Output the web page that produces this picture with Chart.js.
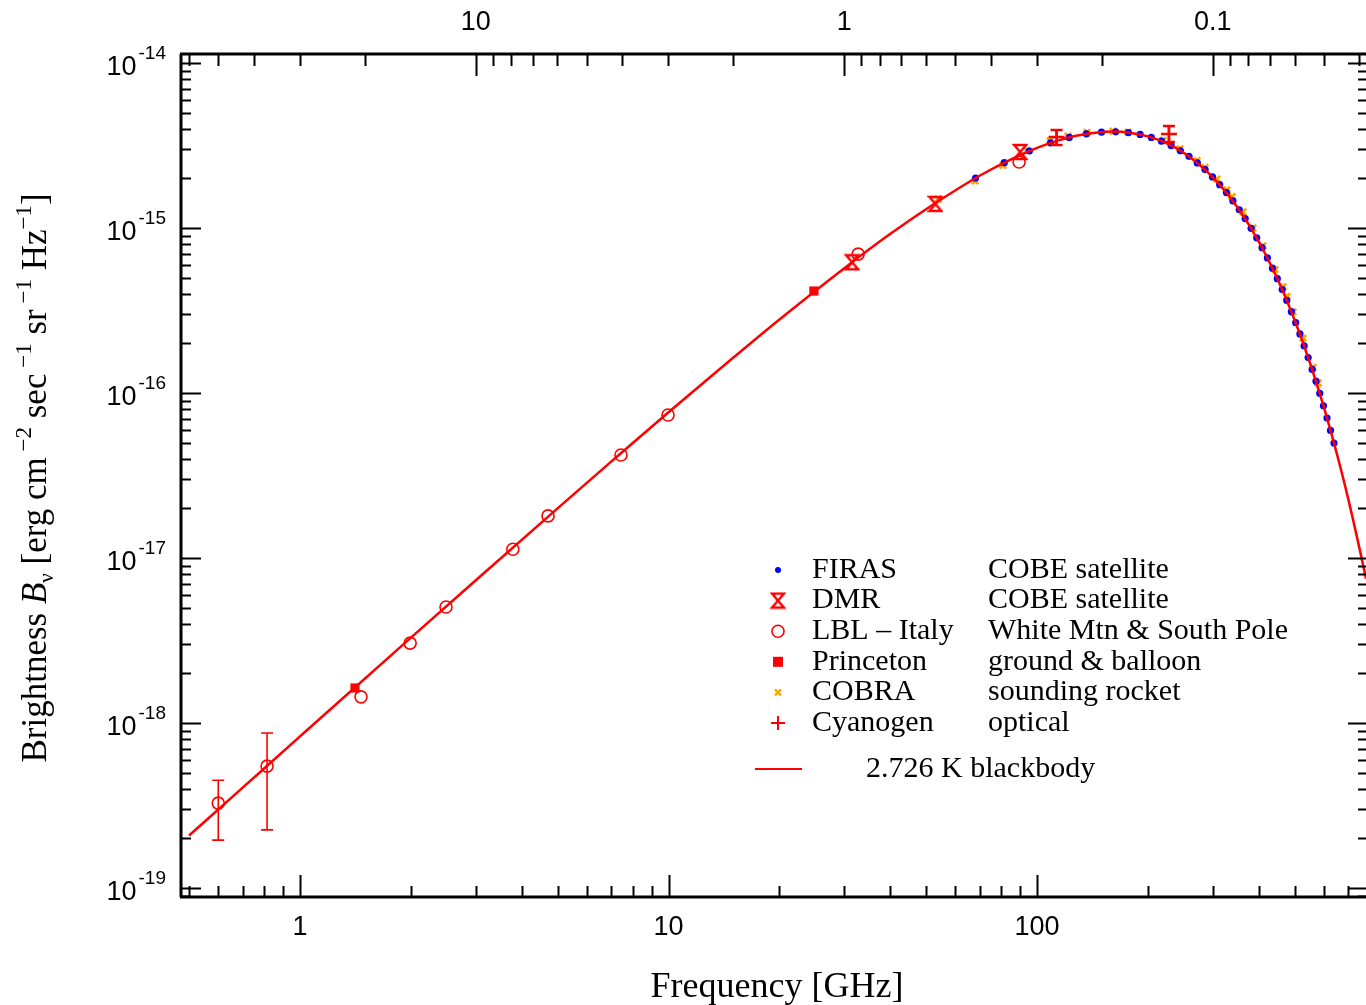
<!DOCTYPE html>
<html>
<head>
<meta charset="utf-8">
<script src="https://cdn.jsdelivr.net/npm/chart.js@4.4.0/dist/chart.umd.min.js"></script>
<style>
  html, body { margin: 0; padding: 0; background: #fff; }
  canvas { display: block; }
</style>
</head>
<body>
<canvas id="cmb" width="1366" height="1005"></canvas>
<script>
// frequency in GHz, brightness in erg cm^-2 sec^-1 sr^-1 Hz^-1
var firasFreq = [68.1, 81.5, 95.3, 108.8, 122.3, 136.1, 149.6, 163.4, 176.9, 190.4, 204.2, 217.6, 231.1,
  244.9, 258.4, 272.2, 285.7, 299.2, 313.0, 326.5, 340.0, 353.8, 367.2, 381.0, 394.5, 408.0, 421.8,
  435.3, 448.8, 462.6, 476.1, 489.9, 503.3, 516.8, 530.6, 544.1, 557.9, 571.4, 584.9, 598.7, 612.2,
  625.7, 639.4];
var firasB = [2.01e-15, 2.49e-15, 2.93e-15, 3.28e-15, 3.54e-15, 3.72e-15, 3.81e-15, 3.83e-15, 3.79e-15,
  3.69e-15, 3.54e-15, 3.36e-15, 3.16e-15, 2.94e-15, 2.72e-15, 2.48e-15, 2.26e-15, 2.04e-15, 1.83e-15,
  1.64e-15, 1.46e-15, 1.29e-15, 1.14e-15, 9.96e-16, 8.72e-16, 7.60e-16, 6.59e-16, 5.71e-16, 4.93e-16,
  4.24e-16, 3.64e-16, 3.11e-16, 2.67e-16, 2.28e-16, 1.93e-16, 1.64e-16, 1.39e-16, 1.18e-16, 9.95e-17,
  8.37e-17, 7.05e-17, 5.93e-17, 4.97e-17];

var dmrFreq = [31.5, 53, 90];
var dmrB = [6.2e-16, 1.4e-15, 2.89e-15];

var lblFreq = [0.6, 0.814, 1.464, 1.99, 2.49, 3.78, 4.71, 7.43, 9.97, 32.7, 89.4];
var lblB = [3.27e-19, 5.48e-19, 1.44e-18, 3.05e-18, 5.05e-18, 1.13e-17, 1.8e-17, 4.21e-17, 7.36e-17, 6.95e-16, 2.51e-15];
var lblLow = [1.95e-19, 2.25e-19, null, null, null, null, null, null, null, null, null];
var lblHigh = [4.5e-19, 8.7e-19, null, null, null, null, null, null, null, null, null];

var princetonFreq = [1.41, 24.8];
var princetonB = [1.63e-18, 4.15e-16];

var cobraFreq = [53.9, 67.9, 80.9, 94.0, 108.5, 121.4, 136.7, 160.8, 176.6, 219.8, 244.3, 271.8, 285.7,
  307.8, 327.8, 338.2, 362.2, 385.5, 410.3, 442.3, 465.2, 476.6, 495.1, 526.9, 561.0, 578.8];
var cobraB = [1.50e-15, 1.93e-15, 2.40e-15, 2.95e-15, 3.38e-15, 3.60e-15, 3.80e-15, 3.86e-15, 3.81e-15,
  3.40e-15, 3.02e-15, 2.56e-15, 2.33e-15, 1.98e-15, 1.70e-15, 1.55e-15, 1.25e-15, 1.0e-15, 7.8e-16,
  5.6e-16, 4.4e-16, 3.85e-16, 3.1e-16, 2.15e-16, 1.43e-16, 1.15e-16];

var cyanFreq = [113, 228];
var cyanB = [3.56e-15, 3.71e-15];
var cyanLow = [3.19e-15, 3.32e-15];
var cyanHigh = [3.93e-15, 4.15e-15];

var bbFreq = [0.5, 0.7, 1, 2, 3, 5, 7, 10, 15, 20, 30, 40, 50, 70, 85, 100, 115, 130, 160, 180, 200,
  225, 250, 300, 350, 400, 450, 500, 550, 600, 650, 700, 781, 800];
var bbB = [2.08e-19, 4.07e-19, 8.29e-19, 3.29e-18, 7.33e-18, 2.0e-17, 3.85e-17, 7.65e-17, 1.64e-16,
  2.79e-16, 5.71e-16, 9.22e-16, 1.30e-15, 2.08e-15, 2.61e-15, 3.06e-15, 3.41e-15, 3.65e-15, 3.84e-15,
  3.77e-15, 3.59e-15, 3.26e-15, 2.86e-15, 2.03e-15, 1.33e-15, 8.25e-16, 4.87e-16, 2.77e-16, 1.53e-16,
  8.23e-17, 4.34e-17, 2.25e-17, 7.5e-18, 5.76e-18];

var xTickLabels = ['1', '10', '100'];
var xTickValues = [1, 10, 100];
var lambdaLabels = ['10', '1', '0.1'];
var lambdaValues = [10, 1, 0.1];
var yExponents = [-14, -15, -16, -17, -18, -19];

var legendRows = [
  ['firas', 'FIRAS', 'COBE satellite'],
  ['dmr', 'DMR', 'COBE satellite'],
  ['lbl', 'LBL \u2013 Italy', 'White Mtn & South Pole'],
  ['princeton', 'Princeton', 'ground & balloon'],
  ['cobra', 'COBRA', 'sounding rocket'],
  ['cyan', 'Cyanogen', 'optical']
];

var RED = '#ff0000';
var BLUE = '#0000ff';
var ORANGE = '#ffa500';
var C_CM_GHZ = 29.979;

function pts(xs, ys) {
  return xs.map(function (x, i) { return { x: x, y: ys[i] }; });
}

function hourglass() {
  var c = document.createElement('canvas');
  c.width = 16; c.height = 18;
  var g = c.getContext('2d');
  g.strokeStyle = RED;
  g.lineWidth = 2.5;
  g.beginPath();
  g.moveTo(2, 2); g.lineTo(14, 2); g.lineTo(2, 16); g.lineTo(14, 16); g.closePath();
  g.stroke();
  return c;
}
var dmrMark = hourglass();

var errorBars = {
  id: 'errorBars',
  afterDatasetsDraw: function (chart) {
    var ctx = chart.ctx, xs = chart.scales.x, ys = chart.scales.y;
    ctx.save();
    ctx.strokeStyle = RED;
    ctx.lineWidth = 1.6;
    function bar(f, lo, hi, cap) {
      var px = xs.getPixelForValue(f), a = ys.getPixelForValue(lo), b = ys.getPixelForValue(hi);
      ctx.beginPath();
      ctx.moveTo(px, a); ctx.lineTo(px, b);
      ctx.moveTo(px - cap, a); ctx.lineTo(px + cap, a);
      ctx.moveTo(px - cap, b); ctx.lineTo(px + cap, b);
      ctx.stroke();
    }
    lblFreq.forEach(function (f, i) { if (lblLow[i] !== null) bar(f, lblLow[i], lblHigh[i], 6); });
    ctx.lineWidth = 2.5;
    cyanFreq.forEach(function (f, i) { bar(f, cyanLow[i], cyanHigh[i], 6); });
    ctx.restore();
  }
};

function drawMarker(ctx, kind, x, y) {
  ctx.save();
  if (kind === 'firas') {
    ctx.fillStyle = BLUE;
    ctx.beginPath(); ctx.arc(x, y, 3, 0, Math.PI * 2); ctx.fill();
  } else if (kind === 'dmr') {
    ctx.drawImage(dmrMark, x - 8, y - 9);
  } else if (kind === 'lbl') {
    ctx.strokeStyle = RED; ctx.lineWidth = 1.6;
    ctx.beginPath(); ctx.arc(x, y, 6, 0, Math.PI * 2); ctx.stroke();
  } else if (kind === 'princeton') {
    ctx.fillStyle = RED;
    ctx.fillRect(x - 5, y - 5, 10, 10);
  } else if (kind === 'cobra') {
    ctx.strokeStyle = ORANGE; ctx.lineWidth = 2.5;
    ctx.beginPath();
    ctx.moveTo(x - 3, y - 3); ctx.lineTo(x + 3, y + 3);
    ctx.moveTo(x + 3, y - 3); ctx.lineTo(x - 3, y + 3);
    ctx.stroke();
  } else if (kind === 'cyan') {
    ctx.strokeStyle = RED; ctx.lineWidth = 2;
    ctx.beginPath();
    ctx.moveTo(x - 7, y); ctx.lineTo(x + 7, y);
    ctx.moveTo(x, y - 7); ctx.lineTo(x, y + 7);
    ctx.stroke();
  }
  ctx.restore();
}

function measureRuns(ctx, parts) {
  var w = 0;
  parts.forEach(function (p) { ctx.font = p.f; p.w = ctx.measureText(p.t).width; w += p.w; });
  return w;
}

var frame = {
  id: 'frame',
  afterDraw: function (chart) {
    var ctx = chart.ctx, a = chart.chartArea, xs = chart.scales.x, ys = chart.scales.y;
    ctx.save();
    ctx.strokeStyle = '#000';
    ctx.fillStyle = '#000';

    // frame lines
    ctx.lineWidth = 3;
    ctx.beginPath();
    ctx.moveTo(a.left, a.top); ctx.lineTo(a.left, a.bottom);
    ctx.moveTo(a.left - 1, a.bottom); ctx.lineTo(a.right + 2, a.bottom);
    ctx.moveTo(a.left - 1, a.top); ctx.lineTo(a.right + 2, a.top);
    ctx.stroke();

    ctx.lineWidth = 2;
    ctx.beginPath();
    // frequency ticks (bottom)
    for (var d = -1; d <= 3; d++) {
      for (var k = 1; k <= 9; k++) {
        var v = k * Math.pow(10, d);
        if (v < xs.min || v > xs.max) continue;
        var px = Math.round(xs.getPixelForValue(v)) + 0.5;
        var len = k === 1 ? 22 : 11;
        ctx.moveTo(px, a.bottom); ctx.lineTo(px, a.bottom - len);
      }
    }
    // wavelength ticks (top), lambda in cm
    for (d = -3; d <= 2; d++) {
      for (k = 1; k <= 9; k++) {
        var lam = k * Math.pow(10, d);
        var f = C_CM_GHZ / lam;
        if (f < xs.min || f > xs.max) continue;
        px = Math.round(xs.getPixelForValue(f)) + 0.5;
        len = k === 1 ? 22 : 12;
        ctx.moveTo(px, a.top); ctx.lineTo(px, a.top + len);
      }
    }
    // brightness ticks (left and right)
    for (d = -20; d <= -14; d++) {
      for (k = 1; k <= 9; k++) {
        v = k * Math.pow(10, d);
        if (v < ys.min || v > ys.max) continue;
        var py = Math.round(ys.getPixelForValue(v)) + 0.5;
        len = k === 1 ? 20 : 10;
        ctx.moveTo(a.left, py); ctx.lineTo(a.left + len, py);
        ctx.moveTo(a.right + 2, py); ctx.lineTo(a.right + 2 - len, py);
      }
    }
    ctx.stroke();

    // tick labels
    ctx.textBaseline = 'middle';
    ctx.textAlign = 'center';
    ctx.font = '27px "Liberation Sans"';
    xTickValues.forEach(function (v, i) {
      ctx.fillText(xTickLabels[i], xs.getPixelForValue(v), 928);
    });
    lambdaValues.forEach(function (l, i) {
      ctx.fillText(lambdaLabels[i], xs.getPixelForValue(C_CM_GHZ / l), 23);
    });
    yExponents.forEach(function (e) {
      var py = ys.getPixelForValue(Math.pow(10, e));
      var sup = '-' + Math.abs(e);
      ctx.font = '19px "Liberation Sans"';
      var sw = ctx.measureText(sup).width;
      ctx.textAlign = 'left';
      ctx.fillText(sup, 166 - sw, py - 9);
      ctx.font = '27px "Liberation Sans"';
      ctx.textAlign = 'right';
      ctx.fillText('10', 164 - sw, py + 5);
    });

    // x title
    ctx.textAlign = 'center';
    ctx.textBaseline = 'alphabetic';
    ctx.font = '36px "Liberation Serif"';
    ctx.fillText('Frequency [GHz]', 777, 997);

    // y title with sub/superscripts
    var serif = '"Liberation Serif"';
    var parts = [
      { t: 'Brightness ', f: '35px ' + serif, dy: 0 },
      { t: 'B', f: 'italic 35px ' + serif, dy: 0 },
      { t: '\u03bd', f: '21px ' + serif, dy: 7 },
      { t: ' [erg cm', f: '35px ' + serif, dy: 0 },
      { t: ' \u22122', f: '23px ' + serif, dy: -15 },
      { t: ' sec', f: '35px ' + serif, dy: 0 },
      { t: ' \u22121', f: '23px ' + serif, dy: -15 },
      { t: ' sr', f: '35px ' + serif, dy: 0 },
      { t: ' \u22121', f: '23px ' + serif, dy: -15 },
      { t: ' Hz', f: '35px ' + serif, dy: 0 },
      { t: '\u22121', f: '23px ' + serif, dy: -15 },
      { t: ']', f: '35px ' + serif, dy: 0 }
    ];
    var total = measureRuns(ctx, parts);
    ctx.save();
    ctx.translate(46, 478);
    ctx.rotate(-Math.PI / 2);
    ctx.textAlign = 'left';
    var cx = -total / 2;
    parts.forEach(function (p) {
      ctx.font = p.f;
      ctx.fillText(p.t, cx, p.dy);
      cx += p.w;
    });
    ctx.restore();

    // legend
    ctx.font = '30px "Liberation Serif"';
    ctx.textAlign = 'left';
    ctx.textBaseline = 'middle';
    legendRows.forEach(function (r, i) {
      var y = 570 + i * 30.6;
      drawMarker(ctx, r[0], 778, y);
      ctx.fillStyle = '#000';
      ctx.fillText(r[1], 812, y);
      ctx.fillText(r[2], 988, y);
    });
    ctx.strokeStyle = RED;
    ctx.lineWidth = 2;
    ctx.beginPath();
    ctx.moveTo(755, 769); ctx.lineTo(802, 769);
    ctx.stroke();
    ctx.fillStyle = '#000';
    ctx.fillText('2.726 K blackbody', 866, 769);

    ctx.restore();
  }
};

new Chart(document.getElementById('cmb').getContext('2d'), {
  type: 'scatter',
  data: {
    datasets: [
      {
        label: '2.726 K blackbody',
        data: pts(bbFreq, bbB),
        showLine: true,
        borderColor: RED,
        borderWidth: 2.5,
        pointRadius: 0,
        cubicInterpolationMode: 'monotone',
        order: 1
      },
      {
        label: 'FIRAS',
        data: pts(firasFreq, firasB),
        pointStyle: 'circle',
        pointRadius: 3.6,
        backgroundColor: BLUE,
        borderColor: BLUE,
        borderWidth: 0,
        order: 2
      },
      {
        label: 'COBRA',
        data: pts(cobraFreq, cobraB),
        pointStyle: 'crossRot',
        pointRadius: 4.5,
        borderColor: ORANGE,
        borderWidth: 2.8,
        order: 2
      },
      {
        label: 'DMR',
        data: pts(dmrFreq, dmrB),
        pointStyle: dmrMark,
        order: 0
      },
      {
        label: 'LBL - Italy',
        data: pts(lblFreq, lblB),
        pointStyle: 'circle',
        pointRadius: 6,
        backgroundColor: 'rgba(255,255,255,0)',
        borderColor: RED,
        borderWidth: 1.6,
        order: 0
      },
      {
        label: 'Princeton',
        data: pts(princetonFreq, princetonB),
        pointStyle: 'rect',
        pointRadius: 6.5,
        backgroundColor: RED,
        borderColor: RED,
        borderWidth: 0,
        order: 0
      },
      {
        label: 'Cyanogen',
        data: pts(cyanFreq, cyanB),
        pointStyle: 'cross',
        pointRadius: 8,
        borderColor: RED,
        borderWidth: 2.5,
        order: 0
      }
    ]
  },
  options: {
    responsive: false,
    animation: false,
    devicePixelRatio: 1,
    layout: { autoPadding: false, padding: { left: 181, top: 54, right: 0, bottom: 108 } },
    scales: {
      x: { type: 'logarithmic', min: 0.4754, max: 781, display: false },
      y: { type: 'logarithmic', min: 8.82e-20, max: 1.134e-14, display: false }
    },
    plugins: {
      legend: { display: false },
      tooltip: { enabled: false }
    }
  },
  plugins: [errorBars, frame]
});
</script>
</body>
</html>
